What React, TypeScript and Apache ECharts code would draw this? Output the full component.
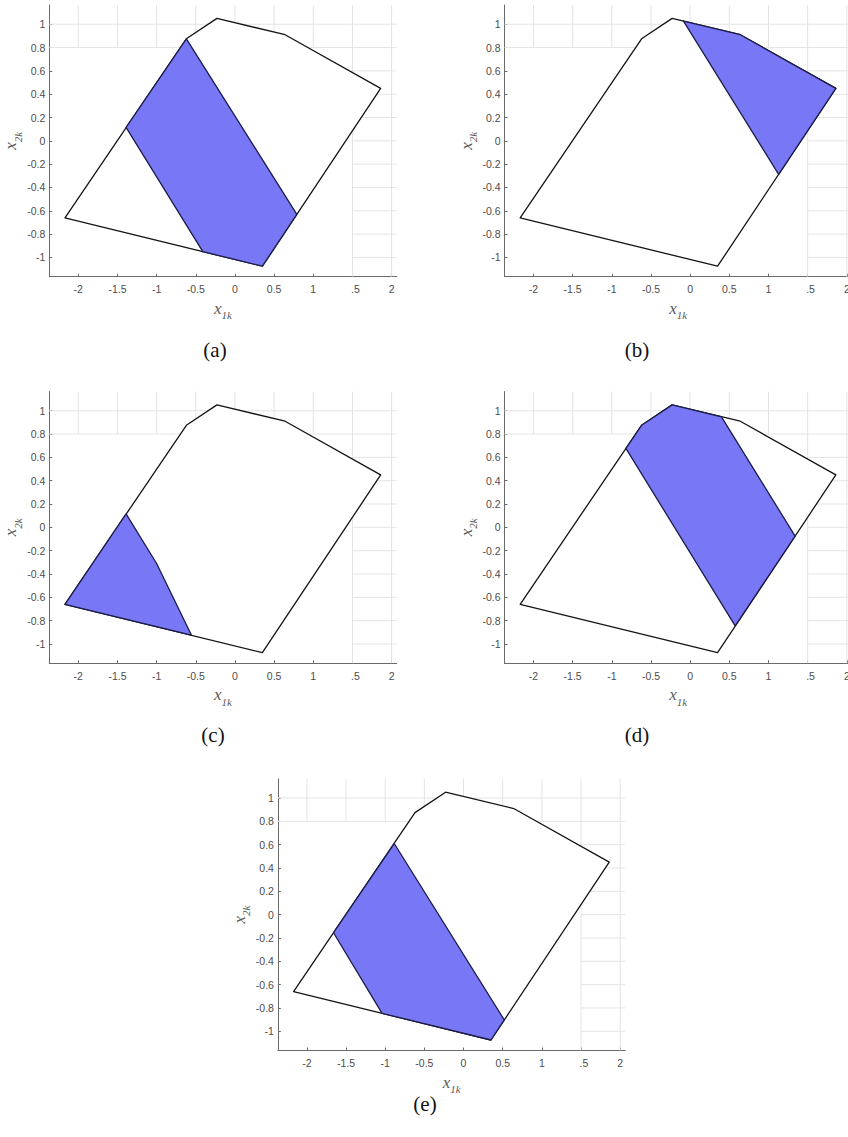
import React, { useEffect, useRef } from "react";
import * as echarts from "echarts";

// Axis ticks and limits shared by all five panels
const X_TICKS = [-2, -1.5, -1, -0.5, 0, 0.5, 1, 1.5, 2];
const Y_TICKS = [-1, -0.8, -0.6, -0.4, -0.2, 0, 0.2, 0.4, 0.6, 0.8, 1];
const X_MIN = -2.37;
const X_MAX = 2.065;
const Y_MIN = -1.165;
const Y_MAX = 1.165;

// The grid is only drawn in the upper band (x2k >= 0.8) and right band (x1k >= 1.5)
const GRID_BAND_X = 1.5;
const GRID_BAND_Y = 0.8;

// Boundary of the feasible set
const OUTER_X1 = [-2.17, -0.62, -0.23, 0.64, 1.86, 0.35];
const OUTER_X2 = [-0.66, 0.875, 1.05, 0.91, 0.45, -1.075];

// Shaded regions, one per panel
const REGION_A_X1 = [-0.62, 0.79, 0.35, -0.41, -1.39];
const REGION_A_X2 = [0.875, -0.63, -1.075, -0.95, 0.115];

const REGION_B_X1 = [-0.085, 0.64, 1.86, 1.13];
const REGION_B_X2 = [1.027, 0.91, 0.45, -0.287];

const REGION_C_X1 = [-2.17, -1.39, -1.0, -0.555];
const REGION_C_X2 = [-0.66, 0.115, -0.31, -0.925];

const REGION_D_X1 = [-0.82, -0.62, -0.23, 0.4, 1.34, 0.575];
const REGION_D_X2 = [0.677, 0.875, 1.05, 0.948, -0.075, -0.845];

const REGION_E_X1 = [-0.885, -1.66, -1.04, 0.35, 0.52];
const REGION_E_X2 = [0.61, -0.155, -0.846, -1.075, -0.903];

const CAPTIONS = ["(a)", "(b)", "(c)", "(d)", "(e)"];

const zip = (xs: number[], ys: number[]) => xs.map((x, i) => [x, ys[i]]);

const PANELS = [
  { region: zip(REGION_A_X1, REGION_A_X2), grid: { left: 49.3, top: 5 }, caption: [215, 350] },
  { region: zip(REGION_B_X1, REGION_B_X2), grid: { left: 504.5, top: 5 }, caption: [637, 350] },
  { region: zip(REGION_C_X1, REGION_C_X2), grid: { left: 49.3, top: 391.5 }, caption: [213, 735] },
  { region: zip(REGION_D_X1, REGION_D_X2), grid: { left: 504.5, top: 391.5 }, caption: [637, 735] },
  { region: zip(REGION_E_X1, REGION_E_X2), grid: { left: 277.9, top: 778.8 }, caption: [425, 1104] },
];

const PLOT_W = 347.4;
const PLOT_H = 271.7;

const LABEL_FONT = "'Liberation Sans', Arial, sans-serif";
const MATH_FONT = "'Liberation Serif', 'DejaVu Serif', serif";
const AXIS_COLOR = "#6a6a6a";
const LABEL_COLOR = "#4d4d4d";
const GRID_COLOR = "#e4e4e4";

const OUTER = zip(OUTER_X1, OUTER_X2);

function mathName(main: string, sub: string) {
  return `{i|${main}}{s|${sub}}`;
}

const mathRich = {
  i: { fontFamily: MATH_FONT, fontStyle: "italic", fontSize: 17, color: "#5a5a5a", verticalAlign: "bottom", lineHeight: 18 },
  s: { fontFamily: MATH_FONT, fontStyle: "italic", fontSize: 11, color: "#5a5a5a", verticalAlign: "bottom", lineHeight: 12, padding: [0, 0, -4, 0] },
};

function gridLinesRenderer(params: any, api: any) {
  const children: any[] = [];
  const stroke = { stroke: GRID_COLOR, lineWidth: 1 };
  X_TICKS.forEach((x) => {
    const from = x >= GRID_BAND_X ? Y_MIN : GRID_BAND_Y;
    const p1 = api.coord([x, from]);
    const p2 = api.coord([x, Y_MAX]);
    children.push({ type: "line", shape: { x1: p1[0], y1: p1[1], x2: p2[0], y2: p2[1] }, style: stroke });
  });
  Y_TICKS.forEach((y) => {
    const from = y >= GRID_BAND_Y ? X_MIN : GRID_BAND_X;
    const p1 = api.coord([from, y]);
    const p2 = api.coord([X_MAX, y]);
    children.push({ type: "line", shape: { x1: p1[0], y1: p1[1], x2: p2[0], y2: p2[1] }, style: stroke });
  });
  return { type: "group", children };
}

function polygonRenderer(points: number[][], fill: string, stroke: string, lineWidth: number) {
  return (params: any, api: any) => ({
    type: "polygon",
    shape: { points: points.map((p) => api.coord(p)) },
    style: { fill, stroke, lineWidth, lineJoin: "round" },
  });
}

function buildOption() {
  const grid: any[] = [];
  const xAxis: any[] = [];
  const yAxis: any[] = [];
  const series: any[] = [];
  const graphic: any[] = [];

  PANELS.forEach((panel, i) => {
    grid.push({
      left: panel.grid.left,
      top: panel.grid.top,
      width: PLOT_W,
      height: PLOT_H,
      containLabel: false,
      outerBoundsMode: "none",
    });
    xAxis.push({
      type: "value",
      gridIndex: i,
      min: X_MIN,
      max: X_MAX,
      axisLine: { show: true, onZero: false, lineStyle: { color: AXIS_COLOR, width: 1 } },
      axisTick: { show: true, inside: true, length: 3, customValues: X_TICKS, lineStyle: { color: AXIS_COLOR } },
      axisLabel: {
        customValues: X_TICKS,
        color: LABEL_COLOR,
        fontFamily: LABEL_FONT,
        fontSize: 10.5,
        margin: 7,
        formatter: (v: number) => (v === 1.5 ? "{h|1}.5" : String(v)),
        rich: { h: { color: "#ffffff", fontFamily: LABEL_FONT, fontSize: 10.5 } },
      },
      splitLine: { show: false },
      name: mathName("x", "1k"),
      nameLocation: "middle",
      nameGap: 22,
      nameTextStyle: { rich: mathRich },
    });
    yAxis.push({
      type: "value",
      gridIndex: i,
      min: Y_MIN,
      max: Y_MAX,
      axisLine: { show: true, onZero: false, lineStyle: { color: AXIS_COLOR, width: 1 } },
      axisTick: { show: true, inside: true, length: 3, customValues: Y_TICKS, lineStyle: { color: AXIS_COLOR } },
      axisLabel: {
        customValues: Y_TICKS,
        color: LABEL_COLOR,
        fontFamily: LABEL_FONT,
        fontSize: 10.5,
        margin: 4,
        formatter: (v: number) => String(v),
      },
      splitLine: { show: false },
      name: mathName("x", "2k"),
      nameLocation: "middle",
      nameGap: 26,
      nameTextStyle: { rich: mathRich },
    });

    series.push({
      type: "custom",
      xAxisIndex: i,
      yAxisIndex: i,
      z: 1,
      silent: true,
      data: [[0, 0]],
      renderItem: gridLinesRenderer,
    });
    series.push({
      type: "custom",
      xAxisIndex: i,
      yAxisIndex: i,
      z: 2,
      silent: true,
      data: [[0, 0]],
      renderItem: polygonRenderer(OUTER, "#ffffff", "#141414", 1.3),
    });
    series.push({
      type: "custom",
      xAxisIndex: i,
      yAxisIndex: i,
      z: 3,
      silent: true,
      data: [[0, 0]],
      renderItem: polygonRenderer(panel.region, "#7878f6", "#1c1c4a", 1.3),
    });

    graphic.push({
      type: "text",
      x: panel.caption[0],
      y: panel.caption[1],
      style: {
        text: CAPTIONS[i],
        fontFamily: MATH_FONT,
        fontSize: 21,
        fill: "#111111",
        textAlign: "center",
        textVerticalAlign: "middle",
      },
    });
  });

  return { animation: false, backgroundColor: "#ffffff", grid, xAxis, yAxis, series, graphic };
}

export default function App() {
  const ref = useRef<HTMLDivElement>(null);

  useEffect(() => {
    if (!ref.current) return;
    const chart = echarts.init(ref.current, null, { renderer: "svg" });
    chart.setOption(buildOption() as any);
    return () => chart.dispose();
  }, []);

  return (
    <div
      ref={ref}
      style={{ position: "absolute", left: 0, top: 0, width: 848, height: 1137, background: "#ffffff" }}
    />
  );
}
